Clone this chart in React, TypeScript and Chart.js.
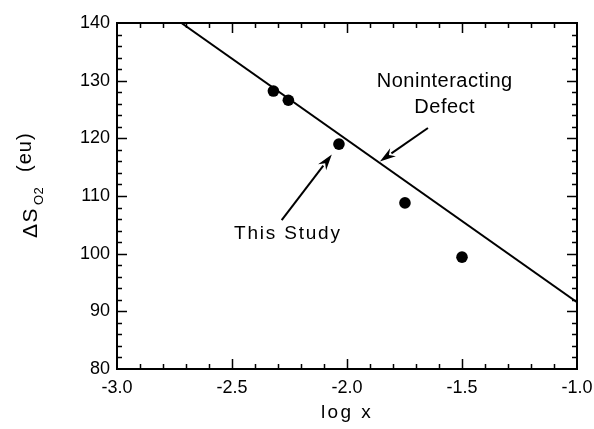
import React, { useEffect, useRef } from "react";
import { Chart, registerables } from "chart.js";

Chart.register(...registerables);

// ---- data ----
const studyLogX = [-2.32, -2.255, -2.035, -1.748, -1.5];
const studyDeltaS = [128.2, 126.6, 119.0, 108.8, 99.4];

const defectLogX = [-2.72, -1.0];
const defectDeltaS = [140, 91.6];

const xTickValues = [-3.0, -2.5, -2.0, -1.5, -1.0];
const yTickValues = [80, 90, 100, 110, 120, 130, 140];
const xRange = [-3.0, -1.0];
const yRange = [80, 140];
const xMinorStep = 0.1;
const yMinorStep = 2;

// annotation texts and anchors (data coordinates)
const defectLabelLines = ["Noninteracting", "Defect"];
const defectLabelX = [-1.575, -1.575];
const defectLabelY = [129.8, 125.3];
const defectArrowFrom = [-1.648, 121.8];
const defectArrowTo = [-1.857, 116.0];

const studyLabelText = "This Study";
const studyLabelAt = [-2.257, 103.5];
const studyArrowFrom = [-2.284, 105.8];
const studyArrowTo = [-2.066, 117.2];

const xTitle = "log x";
const yTitleMain = "ΔS";
const yTitleSub = "O2";
const yTitleUnit = "(eu)";

const FONT = "'Liberation Sans', Arial, Helvetica, sans-serif";

function setSpacing(ctx: any, px: number) {
  if ("letterSpacing" in ctx) ctx.letterSpacing = px + "px";
}

function drawArrow(ctx: CanvasRenderingContext2D, x1: number, y1: number, x2: number, y2: number) {
  const ang = Math.atan2(y2 - y1, x2 - x1);
  const headLen = 16;
  const headHalf = 5;
  ctx.beginPath();
  ctx.moveTo(x1, y1);
  ctx.lineTo(x2 - Math.cos(ang) * (headLen - 2), y2 - Math.sin(ang) * (headLen - 2));
  ctx.stroke();
  ctx.beginPath();
  ctx.moveTo(x2, y2);
  ctx.lineTo(
    x2 - Math.cos(ang) * headLen - Math.sin(ang) * headHalf,
    y2 - Math.sin(ang) * headLen + Math.cos(ang) * headHalf
  );
  ctx.lineTo(x2 - Math.cos(ang) * (headLen - 5), y2 - Math.sin(ang) * (headLen - 5));
  ctx.lineTo(
    x2 - Math.cos(ang) * headLen + Math.sin(ang) * headHalf,
    y2 - Math.sin(ang) * headLen - Math.cos(ang) * headHalf
  );
  ctx.closePath();
  ctx.fill();
}

const framePlugin = {
  id: "frameTicks",
  afterDatasetsDraw(chart: any) {
    const { ctx, chartArea: a, scales } = chart;
    const xs = scales.x;
    const ys = scales.y;
    ctx.save();
    ctx.strokeStyle = "#000";
    ctx.fillStyle = "#000";
    ctx.lineWidth = 2;
    ctx.strokeRect(a.left, a.top, a.right - a.left, a.bottom - a.top);

    ctx.lineWidth = 1.5;
    const nx = Math.round((xRange[1] - xRange[0]) / xMinorStep);
    for (let i = 1; i < nx; i++) {
      const v = xRange[0] + i * xMinorStep;
      const px = Math.round(xs.getPixelForValue(v)) + 0.5;
      const len = i % 5 === 0 ? 10 : 5;
      ctx.beginPath();
      ctx.moveTo(px, a.bottom);
      ctx.lineTo(px, a.bottom - len);
      ctx.moveTo(px, a.top);
      ctx.lineTo(px, a.top + len);
      ctx.stroke();
    }
    const ny = Math.round((yRange[1] - yRange[0]) / yMinorStep);
    for (let i = 1; i < ny; i++) {
      const v = yRange[0] + i * yMinorStep;
      const py = Math.round(ys.getPixelForValue(v)) + 0.5;
      const len = i % 5 === 0 ? 10 : 5;
      ctx.beginPath();
      ctx.moveTo(a.left, py);
      ctx.lineTo(a.left + len, py);
      ctx.moveTo(a.right, py);
      ctx.lineTo(a.right - len, py);
      ctx.stroke();
    }
    ctx.restore();
  },
  afterDraw(chart: any) {
    const { ctx, chartArea: a, scales } = chart;
    const xs = scales.x;
    const ys = scales.y;
    const X = (v: number) => xs.getPixelForValue(v);
    const Y = (v: number) => ys.getPixelForValue(v);
    ctx.save();
    ctx.fillStyle = "#000";
    ctx.strokeStyle = "#000";
    ctx.textAlign = "center";
    ctx.textBaseline = "middle";

    // Noninteracting Defect label
    ctx.font = `20px ${FONT}`;
    setSpacing(ctx, 0.5);
    defectLabelLines.forEach((t, i) => {
      ctx.fillText(t, X(defectLabelX[i]), Y(defectLabelY[i]));
    });
    // This Study label
    ctx.font = `19px ${FONT}`;
    setSpacing(ctx, 1.8);
    ctx.fillText(studyLabelText, X(studyLabelAt[0]), Y(studyLabelAt[1]));

    // arrows
    ctx.lineWidth = 2;
    drawArrow(ctx, X(defectArrowFrom[0]), Y(defectArrowFrom[1]), X(defectArrowTo[0]), Y(defectArrowTo[1]));
    drawArrow(ctx, X(studyArrowFrom[0]), Y(studyArrowFrom[1]), X(studyArrowTo[0]), Y(studyArrowTo[1]));

    // x title
    ctx.font = `19px ${FONT}`;
    setSpacing(ctx, 2.4);
    ctx.fillText(xTitle, (a.left + a.right) / 2, 413);

    // y title (rotated, with subscript)
    const cy = (a.top + a.bottom) / 2;
    ctx.translate(37, cy + 42);
    ctx.rotate(-Math.PI / 2);
    ctx.textAlign = "left";
    ctx.textBaseline = "alphabetic";
    ctx.font = `21px ${FONT}`;
    setSpacing(ctx, 1.5);
    ctx.fillText(yTitleMain, 0, 0);
    ctx.font = `13px ${FONT}`;
    setSpacing(ctx, 0.5);
    ctx.fillText(yTitleSub, 33, 6);
    ctx.font = `20px ${FONT}`;
    setSpacing(ctx, 1);
    ctx.fillText(yTitleUnit, 66, -6);
    ctx.restore();
  },
};

export default function App() {
  const ref = useRef<HTMLCanvasElement | null>(null);

  useEffect(() => {
    if (!ref.current) return;
    const chart = new Chart(ref.current, {
      type: "scatter",
      data: {
        datasets: [
          {
            label: "This Study",
            data: studyLogX.map((x, i) => ({ x, y: studyDeltaS[i] })),
            backgroundColor: "#000",
            borderColor: "#000",
            pointRadius: 5.8,
            pointHoverRadius: 5.8,
            borderWidth: 0,
            order: 0,
          },
          {
            label: "Noninteracting Defect",
            data: defectLogX.map((x, i) => ({ x, y: defectDeltaS[i] })),
            showLine: true,
            borderColor: "#000",
            borderWidth: 2,
            pointRadius: 0,
            order: 1,
          },
        ],
      },
      options: {
        animation: false,
        responsive: false,
        maintainAspectRatio: false,
        events: [],
        layout: { padding: { top: 23, right: 17, left: 0, bottom: 0 } },
        plugins: {
          legend: { display: false },
          tooltip: { enabled: false },
          title: { display: false },
        },
        scales: {
          x: {
            type: "linear",
            min: xRange[0],
            max: xRange[1],
            grid: { display: false, drawTicks: false },
            border: { display: false },
            afterBuildTicks: (s: any) => {
              s.ticks = xTickValues.map((v) => ({ value: v }));
            },
            afterFit: (s: any) => {
              s.height = 60;
              s.paddingLeft = 0;
              s.paddingRight = 0;
            },
            ticks: {
              autoSkip: false,
              maxRotation: 0,
              minRotation: 0,
              padding: 8,
              color: "#000",
              font: { family: FONT, size: 18 },
              callback: (v: any) => Number(v).toFixed(1),
            },
          },
          y: {
            type: "linear",
            min: yRange[0],
            max: yRange[1],
            grid: { display: false, drawTicks: false },
            border: { display: false },
            afterBuildTicks: (s: any) => {
              s.ticks = yTickValues.map((v) => ({ value: v }));
            },
            afterFit: (s: any) => {
              s.width = 117;
              s.paddingTop = 0;
              s.paddingBottom = 0;
            },
            ticks: {
              autoSkip: false,
              padding: 7,
              color: "#000",
              font: { family: FONT, size: 18 },
              callback: (v: any) => String(v),
            },
          },
        },
      },
      plugins: [framePlugin],
    } as any);
    return () => chart.destroy();
  }, []);

  return (
    <div style={{ position: "fixed", left: 0, top: 0, width: 594, height: 429, background: "#fff" }}>
      <canvas ref={ref} width={594} height={429} style={{ width: 594, height: 429, display: "block" }} />
    </div>
  );
}
